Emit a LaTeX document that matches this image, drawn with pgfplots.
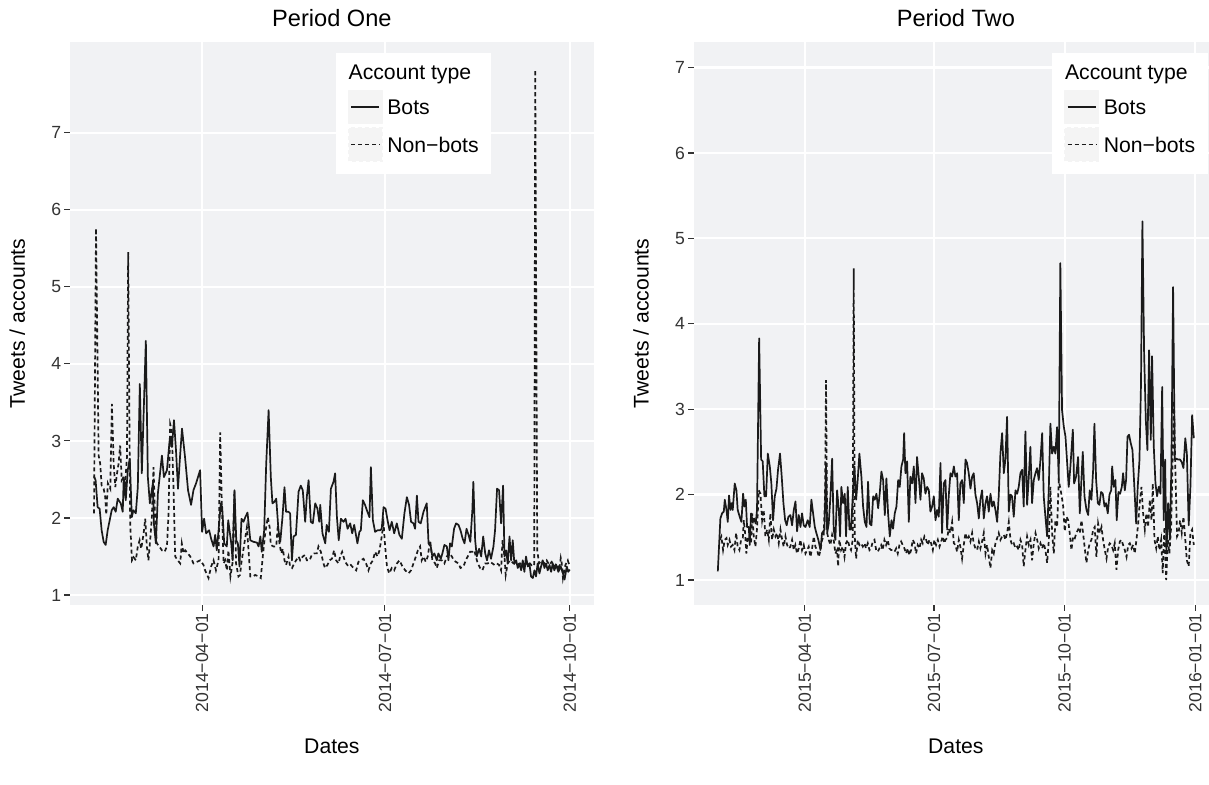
\documentclass[border=0pt]{standalone}
\usepackage{pgfplots}
\pgfplotsset{compat=1.18}
\usepackage{fontspec}
\setmainfont{Liberation Sans}
\definecolor{panelbg}{RGB}{241,242,244}
\definecolor{keybg}{RGB}{244,244,244}
\definecolor{tickc}{RGB}{51,51,51}
\definecolor{linec}{RGB}{26,26,26}
\pgfplotsset{
  ggpanel/.style={
    scale only axis,
    width=261.6pt, height=281.5pt,
    axis background/.style={fill=panelbg},
    axis lines*=left,
    axis line style={draw=none},
    grid=major,
    major grid style={white, line width=1.1pt},
    tick align=outside,
    major tick length=3pt,
    tick style={tickc, line width=0.55pt},
    /pgf/number format/assume math mode=true,
    ytick={1,2,3,4,5,6,7},
    xtick={90,181,273},
    yticklabel style={font=\fontsize{8.8}{10}\selectfont, text=tickc, inner sep=0pt, xshift=-1.4pt},
    xticklabel style={font=\fontsize{8.8}{10}\selectfont, text=tickc, inner sep=0pt, yshift=-1pt, rotate=90, anchor=east},
    title style={font=\fontsize{11.8}{13}\selectfont, at={(axis description cs:0.5,1)}, anchor=base, yshift=1.85pt},
    ylabel={Tweets / accounts},
    xlabel={Dates},
    label style={font=\fontsize{10.6}{12}\selectfont},
    ylabel style={at={(axis description cs:-0.087,0.5)}, anchor=base},
    xlabel style={at={(axis description cs:0.5,-0.263)}, anchor=base},
    legend cell align=left,
    legend style={draw=none, fill=white, inner xsep=6.2pt, inner ysep=6.3pt,
      font=\fontsize{10.6}{12}\selectfont, row sep=1.35pt, column sep=2.15pt,
      nodes={inner sep=0pt, text depth=}, anchor=north east},
    legend image code/.code={\fill[keybg] (0pt,-8.25pt) rectangle (16.7pt,8.25pt); \draw[#1] (1.2pt,0pt) -- (15.35pt,0pt);},
  },
  botline/.style={linec, line width=0.85pt, line join=round},
  nonline/.style={linec, line width=0.85pt, dash pattern=on 2pt off 1.5pt},
}
\begin{document}
\begin{tikzpicture}
\useasboundingbox (0,0) rectangle (604.5pt,392.5pt);
\clip (0,0) rectangle (604.5pt,392.5pt);
\begin{axis}[ggpanel, at={(35.15pt,90pt)}, anchor=south west,
  xmin=24.4, xmax=284.8, ymin=0.87, ymax=8.18,
  xticklabels={2014−04−01,2014−07−01,2014−10−01},
  title={Period One},
  legend style={at={(axis description cs:0.805,0.9817)}}]
\addlegendimage{empty legend}
\addlegendentry{\hspace*{-19.35pt}Account type\rule[-3.6pt]{0pt}{3.6pt}}
\addplot[botline] coordinates {(36.2,2.54)(37,2.49)(38,2.14)(39,2.12)(40,1.84)(41,1.69)(42,1.65)(43,1.84)(45,2.10)(46,2.14)(47,2.08)(48,2.25)(49.5,2.19)(50.5,2.08)(51,2.53)(52,2.23)(53,2.62)(54,2.77)(55,2.01)(55.8,2.10)(57,2.06)(58,2.40)(59,3.74)(60,2.58)(62,4.30)(63,2.53)(64,2.19)(65.5,2.45)(66,1.93)(67,1.67)(68,2.32)(70,2.81)(71,2.53)(72.5,2.62)(74,3.05)(75,2.92)(76,3.27)(77,2.88)(78,2.38)(79,2.79)(80,3.16)(81.5,2.79)(83,2.36)(84.5,2.17)(85.7,2.36)(87,2.45)(89,2.62)(90,1.82)(91,1.99)(92,1.80)(93.5,1.84)(94.5,1.73)(95.7,1.63)(96.5,1.78)(97.3,1.58)(98.2,1.84)(99.3,2.19)(100,2.14)(101,1.67)(102.3,1.63)(103,1.97)(104.5,1.67)(105.2,1.45)(106.1,2.36)(107,1.71)(107.8,1.67)(108.6,1.37)(109.6,1.99)(110.6,1.95)(111.5,2.01)(112.6,2.07)(114,1.71)(115.6,1.69)(117.3,1.68)(118.1,1.63)(119,1.76)(119.7,1.56)(120.9,1.84)(121.9,2.70)(123.1,3.40)(124.2,2.53)(125,2.19)(126,2.21)(126.9,2.25)(128,1.84)(128.9,1.69)(130,2.01)(131,2.40)(131.8,2.08)(133,2.08)(133.8,2.06)(134.7,1.45)(135.5,1.76)(136.7,1.78)(138,2.34)(139.1,2.42)(140.1,2.36)(141.3,1.95)(142.1,2.27)(143,2.49)(144.1,1.95)(145.1,1.93)(146.3,2.19)(147.4,2.12)(148.3,1.95)(148.8,2.17)(149.9,1.80)(151.3,1.67)(152,1.91)(153.1,1.82)(154.1,2.38)(155.4,2.47)(156.2,2.58)(157.1,2.01)(158,1.71)(159.1,1.99)(160.4,1.95)(161.4,1.99)(162.4,1.86)(163.7,1.93)(164.7,1.80)(165.7,1.91)(166.7,1.76)(167.3,1.67)(168.3,1.82)(169,1.84)(170,2.23)(171.1,2.17)(172,2.10)(173.3,2.01)(174,2.66)(175,1.97)(176.1,1.82)(177.3,1.84)(178.6,1.84)(179.4,1.86)(180.3,2.14)(181.3,2.12)(182.3,1.97)(183.3,1.84)(184.4,1.95)(185.6,1.80)(186.9,1.93)(188.2,1.78)(189.4,1.73)(190.7,2.06)(191.9,2.27)(193,2.17)(194,1.95)(195.2,1.93)(196,1.86)(196.9,2.29)(197.7,1.95)(198.8,1.93)(200.2,2.08)(201.8,2.19)(202.7,1.67)(203.8,1.63)(204.6,1.50)(205.6,1.54)(206.8,1.45)(207.6,1.54)(208.8,1.47)(209.6,1.54)(210.6,1.65)(211.8,1.63)(212.6,1.45)(213.4,1.67)(214.3,1.63)(215.4,1.86)(216.4,1.93)(217.6,1.91)(218.6,1.84)(219.7,1.73)(220.6,1.67)(221.6,1.86)(222.6,1.78)(223.5,1.69)(224.5,2.10)(225,2.47)(225.9,1.71)(226.7,1.50)(227.9,1.60)(228.9,1.50)(229.9,1.76)(230.9,1.54)(231.8,1.45)(232.8,1.58)(233.8,1.47)(235,1.63)(235.8,1.84)(236.8,2.38)(237.8,2.36)(238.8,1.93)(239.8,2.42)(240.5,1.50)(241.3,1.58)(242.1,1.41)(243,1.76)(243.8,1.45)(244.6,1.71)(245.4,1.41)(246.3,1.45)(247.1,1.35)(247.9,1.41)(248.8,1.32)(249.6,1.45)(250.4,1.30)(251.2,1.50)(252.1,1.37)(252.9,1.41)(253.7,1.24)(254.6,1.22)(255.4,1.32)(256.2,1.24)(257,1.41)(257.9,1.28)(258.7,1.37)(259.5,1.45)(260.4,1.35)(261.2,1.41)(262,1.32)(262.9,1.39)(263.7,1.30)(264.5,1.41)(265.3,1.32)(266.2,1.39)(267.3,1.30)(268.5,1.37)(269.6,1.28)(270.4,1.20)(271.5,1.37)(272.2,1.30)(273,1.33)};
\addlegendentry{Bots}
\addplot[nonline] coordinates {(36.2,2.06)(37.2,5.76)(38.5,2.81)(39.3,2.70)(40,2.42)(41,2.38)(41.8,2.27)(42.3,2.04)(43.1,2.45)(44.3,2.38)(45.1,3.48)(46,2.70)(46.8,2.40)(47.6,2.57)(48.4,2.70)(49.2,2.94)(50,2.49)(50.9,2.53)(51.7,2.45)(52.6,2.79)(53.2,5.45)(54.2,1.93)(55.1,1.45)(55.9,1.49)(57,1.45)(58,1.63)(58.9,1.71)(59.7,1.60)(60.9,1.80)(61.7,1.99)(62.5,1.63)(63.3,1.45)(64.3,1.76)(65,2.01)(65.8,2.66)(66.7,1.93)(67.5,1.67)(68.7,1.63)(70,1.58)(71.3,1.56)(72.5,1.63)(73.3,2.06)(74.1,3.22)(74.9,3.14)(75.8,2.36)(76.6,1.50)(77.9,1.45)(79.1,1.41)(79.9,1.67)(80.8,1.54)(81.6,1.58)(82.9,1.54)(84.1,1.50)(85.7,1.41)(87.4,1.43)(89.1,1.45)(90.7,1.39)(91.5,1.32)(93.2,1.22)(94.5,1.37)(95.7,1.45)(96.9,1.32)(98.2,1.45)(99,3.11)(99.8,2.19)(100.7,1.41)(101.5,1.45)(102.3,1.32)(103.1,1.58)(104.1,1.24)(105.1,1.41)(106.1,2.36)(106.9,1.41)(108.1,1.24)(108.9,1.26)(109.5,1.41)(110.5,1.58)(112.3,1.88)(113.1,1.58)(114,1.24)(115.3,1.24)(116.4,1.26)(118.1,1.24)(119.2,1.22)(120.2,1.50)(121.4,1.80)(122.7,2.01)(123.6,1.88)(124.2,1.65)(125.5,1.63)(126.9,1.63)(127.7,1.91)(128.5,1.67)(129.4,1.54)(130.2,1.60)(131,1.45)(131.8,1.39)(133,1.50)(133.8,1.37)(134.8,1.35)(135.8,1.41)(136.8,1.45)(138,1.50)(138.8,1.45)(140.1,1.50)(141.3,1.52)(142.1,1.45)(143.5,1.45)(144.6,1.52)(145.8,1.54)(147.1,1.54)(147.9,1.63)(149.1,1.56)(150.4,1.41)(151.2,1.35)(152.4,1.39)(153.4,1.45)(154.6,1.47)(155.7,1.58)(156.7,1.45)(157.9,1.41)(158.7,1.50)(159.7,1.56)(160.7,1.47)(161.7,1.41)(162.9,1.37)(164,1.39)(165.4,1.35)(166.7,1.32)(167.8,1.43)(169,1.45)(170.3,1.47)(171.6,1.41)(172.8,1.32)(174,1.41)(175,1.45)(176.1,1.56)(177.3,1.50)(178.3,1.58)(179.4,1.76)(180.3,1.93)(181.1,1.63)(182,1.37)(183.1,1.28)(184.4,1.35)(185.6,1.32)(187,1.41)(188.2,1.45)(189.7,1.37)(191.1,1.32)(192.7,1.28)(194,1.32)(195.2,1.41)(196.4,1.50)(197.4,1.58)(198.5,1.63)(199.3,1.45)(200.2,1.50)(201.3,1.43)(202.3,1.50)(203.5,1.71)(204.6,1.45)(206,1.41)(206.8,1.35)(208,1.45)(209.3,1.45)(210.6,1.41)(211.8,1.50)(213,1.54)(214.3,1.50)(215.3,1.45)(216.3,1.43)(217.6,1.41)(218.6,1.35)(220.1,1.37)(221.2,1.45)(222.2,1.50)(223.4,1.56)(224.5,1.56)(225.5,1.58)(226.2,1.50)(227.2,1.41)(228.4,1.35)(229.5,1.32)(230.8,1.41)(232.2,1.41)(233.3,1.43)(234.5,1.41)(235.5,1.39)(236.7,1.41)(237.8,1.39)(238.8,1.32)(239.5,1.71)(240.5,1.50)(241.1,1.26)(242.1,1.41)(243.3,1.45)(245,1.41)(246.6,1.39)(248.3,1.41)(249.9,1.37)(251.6,1.41)(253.2,1.41)(254.4,1.37)(255.3,1.40)(255.8,7.82)(256.8,1.58)(257.7,1.41)(259,1.45)(260.4,1.41)(261.5,1.45)(262.7,1.39)(264,1.43)(265.3,1.37)(266.5,1.41)(267.7,1.32)(268.5,1.48)(269,1.41)(269.6,1.22)(270.8,1.39)(272,1.45)(273,1.37)};
\addlegendentry{Non−bots}
\end{axis}
\begin{axis}[ggpanel, at={(347.05pt,90pt)}, anchor=south west,
  width=261.75pt,
  xmin=12.1, xmax=380.75, ymin=0.707, ymax=7.30,
  xtick={90,181,273,365},
  xticklabels={2015−04−01,2015−07−01,2015−10−01,2016−01−01},
  title={Period Two},
  legend style={at={(axis description cs:0.9815,0.9817)}}]
\addlegendimage{empty legend}
\addlegendentry{\hspace*{-19.35pt}Account type\rule[-3.6pt]{0pt}{3.6pt}}
\addplot[botline] coordinates {(28.8,1.10)(30.6,1.72)(31.8,1.78)(33,1.80)(33.7,1.94)(34.9,1.82)(35.8,1.68)(36.7,1.99)(37.7,1.82)(38.6,1.90)(39.3,1.82)(40.7,2.13)(41.9,2.05)(42.8,1.82)(44.2,1.74)(45.4,1.68)(46.6,2.01)(47.5,1.86)(48.5,1.94)(49.4,1.62)(50.6,1.62)(51.3,1.41)(52.2,1.78)(53.4,1.68)(54.3,1.72)(55.5,1.66)(56.4,1.82)(57.9,3.83)(59.3,2.41)(60.4,2.39)(61.6,1.98)(62.8,1.98)(64,2.48)(65.4,2.33)(66.5,2.13)(67.7,1.70)(68.9,1.98)(70.1,2.07)(71.2,2.29)(72.6,2.48)(73.8,2.21)(75,1.90)(76.2,1.70)(77.3,1.64)(78.5,1.74)(79.9,1.76)(81.1,1.64)(82.3,1.82)(83.5,1.92)(84.6,1.57)(85.8,1.76)(87,1.62)(88.1,1.78)(89.3,1.64)(90.5,1.62)(92.1,1.70)(93.5,1.62)(94.7,1.94)(95.9,1.78)(97.1,1.62)(98.2,1.55)(99.6,1.47)(101.1,1.35)(102.2,1.55)(103.9,1.59)(105,2.37)(105.8,1.55)(106.9,1.66)(108.1,1.98)(109.3,2.42)(110.4,1.59)(111.6,1.47)(112.8,2.05)(114,1.82)(114.9,1.51)(115.8,2.09)(117,1.90)(118.2,2.01)(119.1,1.51)(120.3,2.09)(121.5,1.59)(122.6,1.59)(123.8,1.98)(125,2.33)(126.2,1.94)(127.3,2.17)(128.5,2.48)(129.9,2.21)(131.1,1.86)(132.3,1.68)(133.5,1.62)(134.6,2.15)(135.8,1.66)(137,1.64)(138.2,1.98)(139.3,1.94)(140.5,2.01)(141.7,1.84)(142.8,2.01)(144,2.27)(145.2,2.17)(146.4,1.76)(147.5,2.19)(148.7,1.78)(149.9,1.51)(151.1,1.70)(152.2,1.60)(153.4,1.78)(154.6,1.86)(155.8,2.17)(156.9,2.09)(158.1,2.33)(159.3,2.41)(160,2.72)(160.9,2.25)(162.1,2.39)(163.3,1.68)(164.4,2.21)(165.6,2.13)(166.8,2.33)(168,1.90)(169.1,2.44)(170.3,2.21)(171.5,1.94)(172.6,2.25)(173.8,2.19)(175,2.01)(176.2,2.09)(177.4,2.05)(178.5,1.80)(179.7,1.86)(180.9,1.98)(182.1,1.70)(183.2,1.82)(184.4,1.74)(185.6,2.37)(186.7,1.55)(187.9,2.13)(189.1,2.17)(190.3,1.59)(191.4,1.98)(192.6,2.25)(193.8,2.21)(195,2.33)(196.1,2.21)(197.3,2.25)(198.5,1.70)(199.6,2.13)(200.8,2.17)(202,1.90)(203.2,2.41)(204.3,2.37)(205.5,2.25)(206.7,2.07)(207.9,2.21)(209,2.25)(210.2,2.00)(211.4,1.90)(212.6,1.72)(213.7,1.94)(214.9,2.05)(216.1,1.72)(217.3,1.90)(218.4,1.98)(219.6,1.80)(220.8,2.01)(222,1.86)(223.1,1.92)(224.3,1.82)(225.5,1.68)(226.6,1.98)(227.8,2.48)(229,2.72)(230.2,2.25)(231.3,2.41)(232.5,2.91)(233.7,1.80)(234.9,2.00)(236,1.98)(237.2,1.74)(238.4,2.05)(239.6,2.01)(240.7,2.09)(241.9,2.25)(243.1,2.29)(244.2,1.86)(245.4,2.74)(246.6,1.88)(247.8,2.21)(248.9,2.56)(250.1,1.90)(251.3,2.17)(252.5,2.25)(253.6,2.31)(254.8,2.17)(256,2.41)(257.2,2.72)(258.3,1.98)(259.5,1.74)(260.7,1.51)(261.9,2.09)(263,2.83)(264.2,2.48)(265.4,2.56)(266.5,2.48)(267.7,2.79)(268.9,2.17)(270,4.71)(271.2,2.99)(272.4,2.80)(273.6,2.68)(274.8,2.37)(275.9,2.09)(277.1,2.33)(278.8,2.76)(279.7,2.13)(281.1,2.21)(282.5,2.44)(283.7,1.78)(284.6,2.09)(285.8,2.50)(287,1.98)(288.4,1.82)(289.6,1.76)(290.7,2.05)(291.9,1.94)(293.1,2.29)(294,2.83)(295.2,2.17)(296.4,1.90)(297.5,1.88)(298.7,2.03)(299.9,2.01)(301.1,1.86)(302.2,1.90)(303.4,1.78)(304.6,2.00)(305.8,2.05)(306.5,2.33)(307.6,2.09)(308.8,2.17)(309.7,1.70)(310.9,2.03)(312.1,2.01)(313.3,2.09)(314.2,2.25)(315.4,2.05)(316.3,2.17)(317.3,2.68)(318.4,2.70)(319.6,2.60)(320.8,2.52)(322,2.13)(323.4,1.66)(324.5,2.09)(325.7,2.40)(326.8,3.30)(327.8,5.20)(329,3.65)(330.2,2.87)(331.3,2.52)(332.5,3.69)(333.7,2.64)(334.6,3.62)(335.8,2.56)(337,2.13)(338.1,1.98)(339.3,2.09)(340.5,2.01)(341.7,3.26)(342.8,1.70)(343.8,2.41)(344.7,1.31)(345.9,1.90)(347.1,1.47)(348.2,2.33)(349.4,4.43)(350.6,2.41)(351.8,2.42)(352.9,2.41)(354.3,2.41)(355.5,2.38)(356.7,2.31)(358,2.66)(359.1,2.48)(360.4,1.64)(361.6,2.09)(362.8,2.93)(364,2.66)};
\addlegendentry{Bots}
\addplot[nonline] coordinates {(30.2,1.47)(31.3,1.51)(32.5,1.35)(33.7,1.47)(34.9,1.49)(35.8,1.41)(37,1.47)(38.1,1.39)(39.3,1.41)(40.5,1.35)(41.7,1.55)(42.8,1.39)(44,1.35)(45.2,1.47)(46.4,1.49)(47.1,1.70)(48,1.55)(48.9,1.31)(49.9,1.51)(51,1.47)(52.2,1.43)(53,1.78)(54.1,1.51)(55.3,1.39)(56.5,1.62)(57.6,2.05)(58.8,2.01)(60,1.70)(61.1,1.82)(62.3,1.51)(63.5,1.59)(64.7,1.47)(65.8,1.78)(67,1.47)(68.2,1.59)(69.4,1.51)(70.5,1.55)(71.7,1.43)(72.9,1.59)(74.1,1.47)(75.2,1.39)(76.4,1.51)(77.6,1.41)(78.8,1.37)(79.9,1.39)(81.1,1.47)(82.3,1.35)(83.4,1.41)(84.6,1.31)(85.8,1.37)(87,1.47)(88.1,1.35)(89.3,1.41)(90.5,1.31)(91.7,1.35)(92.8,1.39)(94,1.27)(95.2,1.37)(96.4,1.51)(97.5,1.39)(98.7,1.35)(99.9,1.27)(101.1,1.35)(102.2,1.47)(103.4,1.51)(104.3,2.01)(105,3.34)(105.8,1.55)(106.9,1.47)(108.1,1.41)(109.3,1.53)(110.4,1.47)(111.6,1.31)(112.8,1.35)(113.5,1.16)(114.4,1.47)(115.6,1.35)(116.8,1.39)(118,1.27)(119.1,1.43)(120.3,1.47)(121.5,1.39)(122.6,1.35)(123.8,1.47)(124.5,4.65)(125.2,1.51)(126.2,1.25)(127.3,1.47)(128.5,1.41)(129.7,1.43)(130.9,1.39)(132.1,1.43)(133.2,1.37)(134.4,1.43)(135.6,1.35)(136.7,1.37)(137.9,1.45)(139.1,1.47)(140.3,1.35)(141.4,1.33)(142.6,1.37)(143.8,1.41)(144.9,1.35)(146.1,1.47)(147.3,1.41)(148.5,1.47)(149.6,1.37)(150.8,1.35)(152,1.35)(153.2,1.33)(154.4,1.37)(155.5,1.31)(156.7,1.41)(157.9,1.45)(159,1.41)(160.2,1.37)(161.4,1.31)(162.6,1.37)(163.7,1.29)(164.9,1.35)(166.1,1.47)(167.3,1.43)(168.4,1.31)(169.6,1.41)(170.8,1.37)(172,1.47)(173.1,1.43)(174.3,1.51)(175.5,1.47)(176.6,1.41)(177.8,1.47)(179,1.43)(180.2,1.35)(181.3,1.47)(182.5,1.41)(183.7,1.47)(184.9,1.39)(186.1,1.45)(187.2,1.51)(188.4,1.43)(189.1,1.47)(190.3,1.49)(191.4,1.60)(192.6,1.55)(193.8,1.68)(195,1.43)(196.1,1.41)(197.3,1.33)(198.5,1.47)(199.6,1.39)(200.8,1.25)(202,1.41)(203.2,1.55)(204.3,1.47)(205.5,1.51)(206.7,1.45)(207.9,1.55)(209,1.43)(210.2,1.37)(211.4,1.35)(212.6,1.45)(213.7,1.37)(214.9,1.45)(216.1,1.55)(217.3,1.31)(218.4,1.41)(219.6,1.27)(220.8,1.14)(222,1.35)(223.1,1.31)(224.3,1.43)(225.5,1.49)(226.6,1.55)(227.8,1.47)(229,1.51)(230.2,1.53)(231.3,1.47)(232.5,1.55)(233.7,1.68)(234.9,1.47)(236,1.41)(237.2,1.43)(238.4,1.37)(239.6,1.39)(240.7,1.35)(241.9,1.47)(243.1,1.41)(244.2,1.16)(245.4,1.35)(246.6,1.51)(247.8,1.41)(249,1.47)(250.1,1.23)(251.3,1.43)(252.5,1.55)(253.7,1.47)(254.8,1.37)(256,1.43)(257.2,1.37)(258.3,1.43)(259.5,1.35)(260.7,1.20)(261.9,1.47)(263,2.09)(264.2,1.55)(265.4,1.31)(266.5,1.70)(267.7,1.62)(268.9,2.17)(271,1.98)(272,1.86)(273.1,1.57)(274.3,1.74)(275.5,1.70)(276.6,1.55)(277.8,1.35)(279,1.51)(280.2,1.49)(281.3,1.55)(282.5,1.59)(283.7,1.55)(284.9,1.70)(286,1.55)(287.2,1.37)(288.4,1.20)(289.6,1.35)(290.7,1.43)(291.9,1.47)(293.1,1.59)(294.2,1.62)(295.4,1.27)(296.6,1.66)(297.8,1.55)(299,1.62)(300.1,1.47)(301.3,1.35)(302.5,1.25)(303.7,1.39)(304.8,1.43)(306,1.41)(307.2,1.35)(308.3,1.43)(309.5,1.12)(310.7,1.35)(311.9,1.45)(313,1.47)(314.2,1.41)(315.4,1.35)(316.6,1.27)(317.8,1.41)(318.9,1.43)(320.1,1.37)(321.3,1.41)(322.4,1.31)(323.6,1.47)(324.8,1.66)(325.9,1.90)(327.1,2.09)(328.3,1.78)(329.5,1.59)(330.6,1.78)(331.8,1.62)(333,1.94)(334.2,1.70)(335.1,2.13)(336.3,1.47)(337.5,1.37)(338.6,1.51)(339.8,1.35)(341,1.47)(342.1,1.08)(343.3,1.62)(344.5,1.00)(345.7,1.47)(346.8,1.31)(348,1.62)(349.2,2.48)(350,3.10)(351,2.29)(352.2,1.51)(353.3,1.55)(354.3,1.70)(355.5,1.55)(356.7,1.74)(358,1.47)(359.1,1.23)(360.4,1.16)(361.6,1.55)(362.8,1.59)(364,1.41)};
\addlegendentry{Non−bots}
\end{axis}
\end{tikzpicture}
\end{document}
